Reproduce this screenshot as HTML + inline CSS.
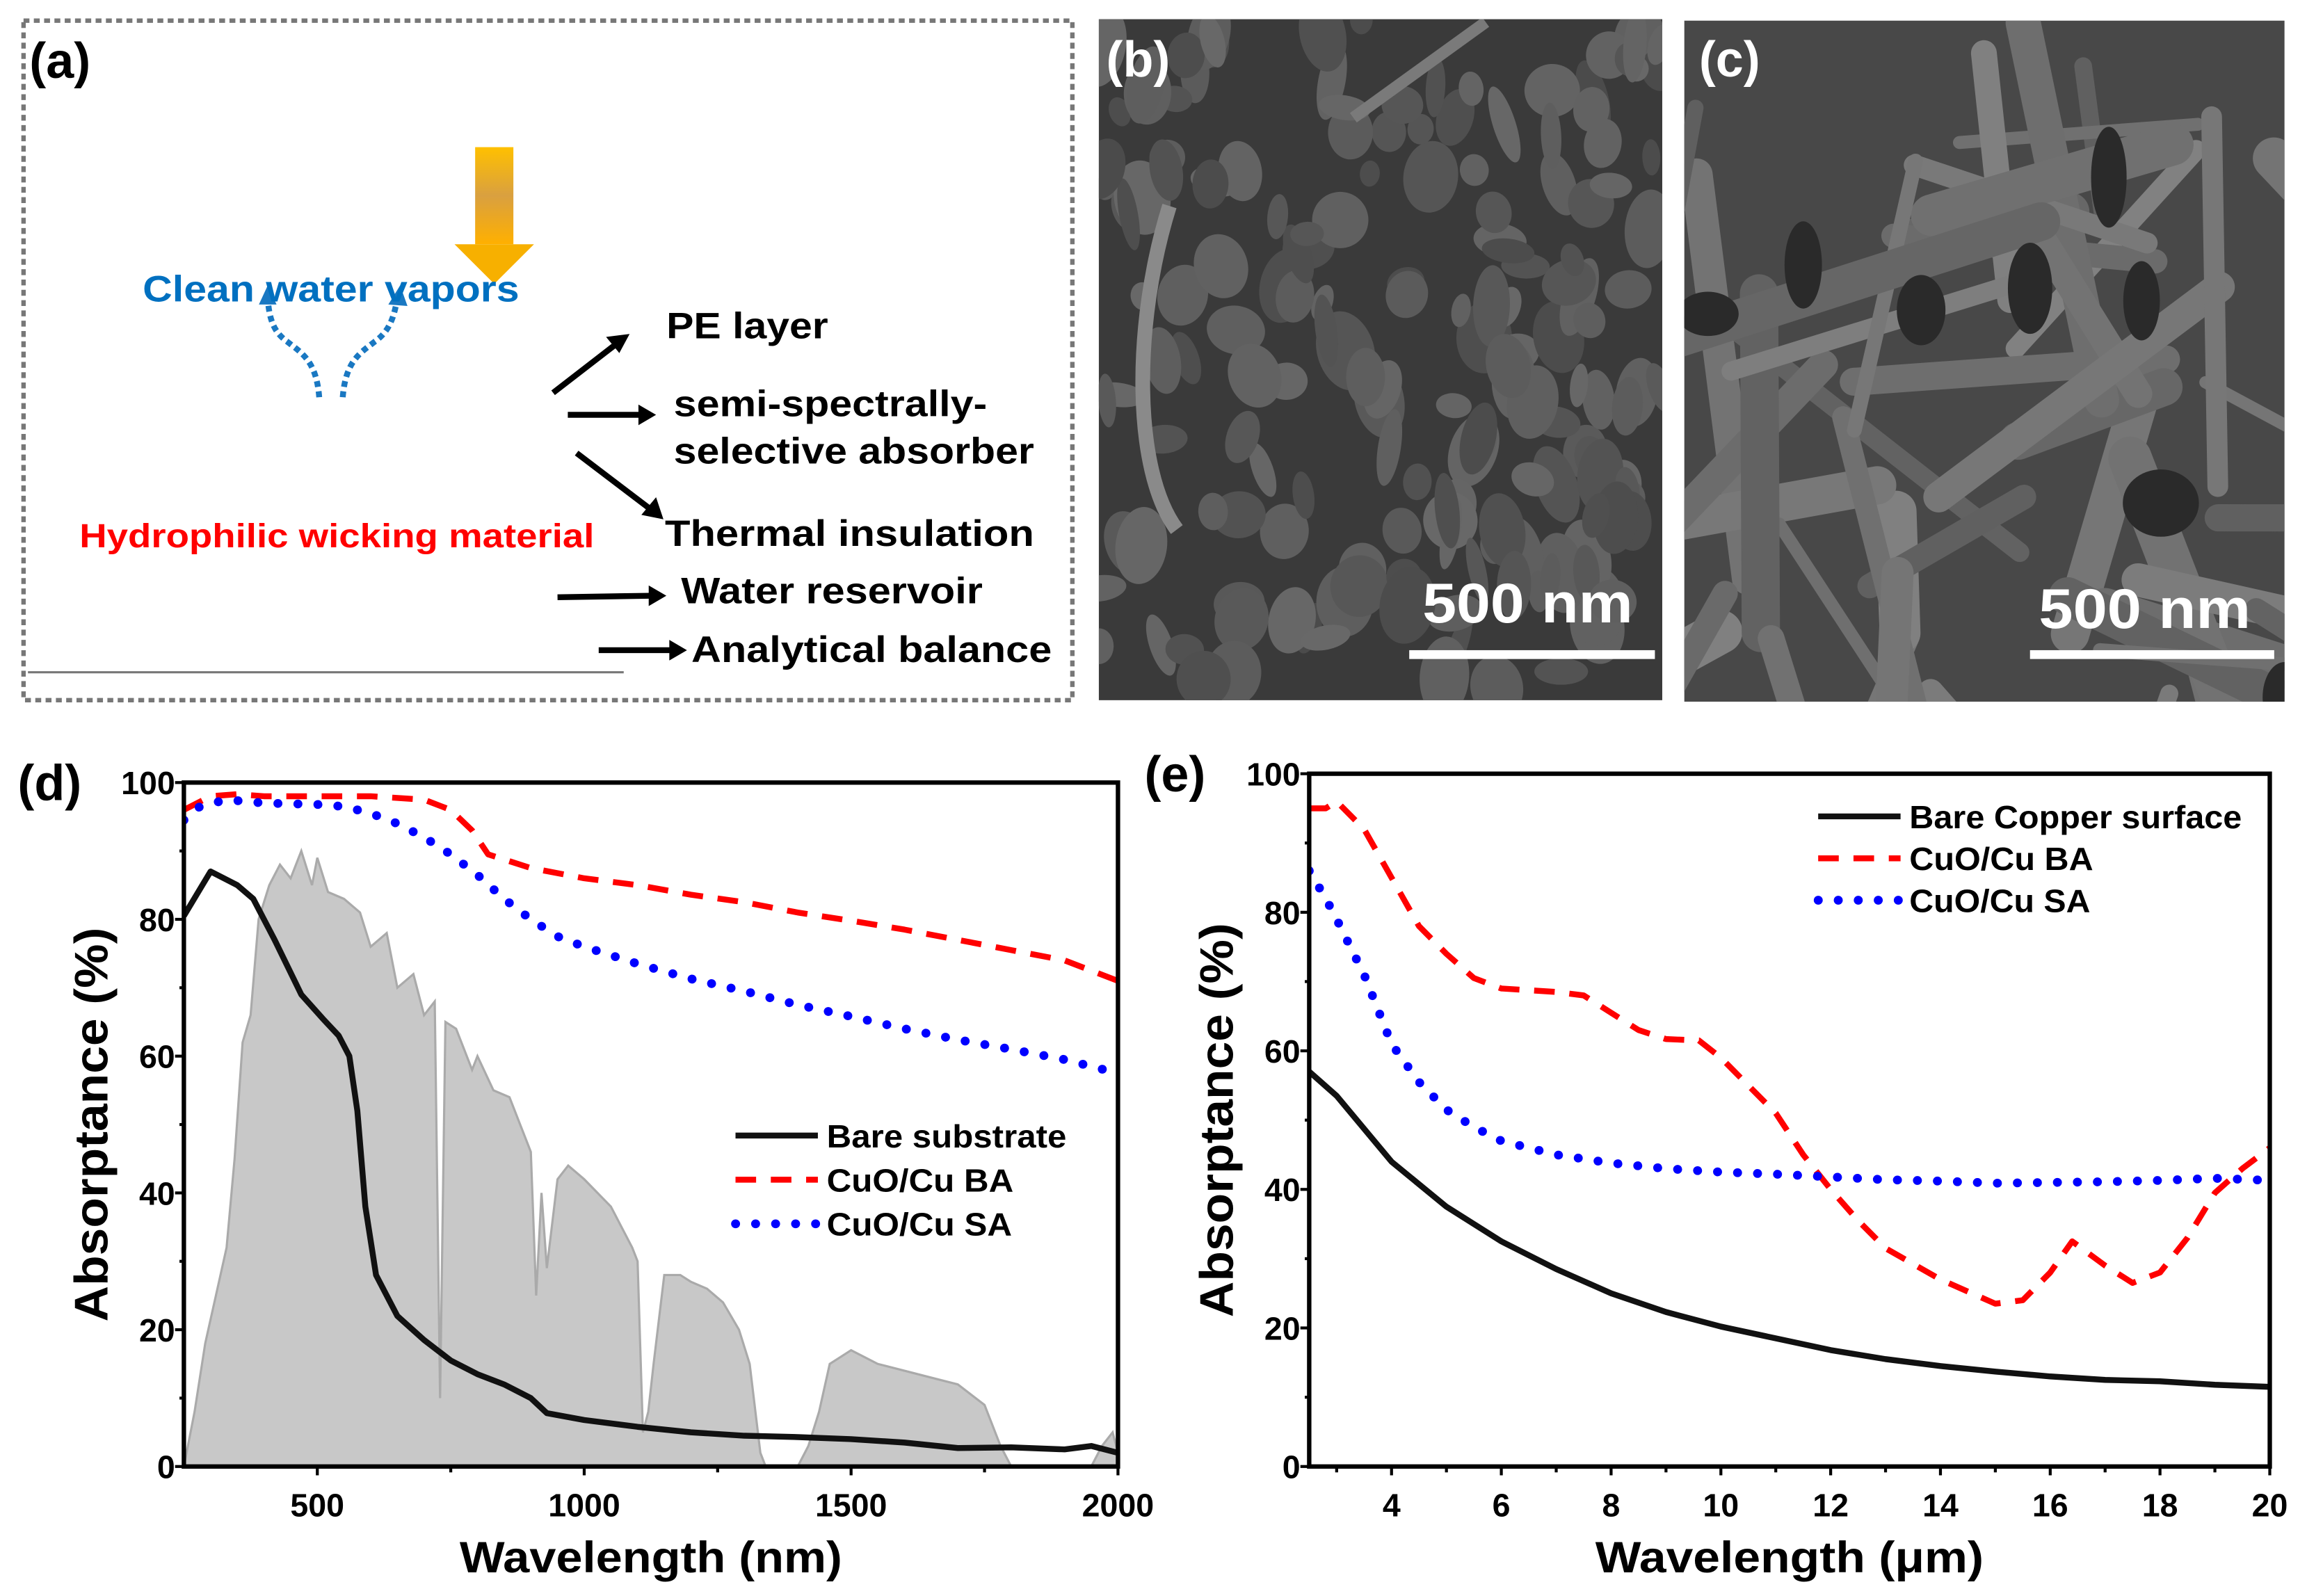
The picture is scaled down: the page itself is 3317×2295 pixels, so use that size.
<!DOCTYPE html>
<html><head><meta charset="utf-8">
<style>
html,body{margin:0;padding:0;background:#fff;}
svg{display:block;font-family:"Liberation Sans",Arial,sans-serif;}
</style></head>
<body>
<svg id="fig" width="3317" height="2295" viewBox="0 0 1568.3 1085" xmlns="http://www.w3.org/2000/svg">
<g id="panelA">
  <rect x="16" y="14" width="713" height="462" fill="none" stroke="#777" stroke-width="3" stroke-dasharray="4,3"/>
  <text x="20" y="53" font-size="34" font-weight="bold">(a)</text>
  <defs>
    <linearGradient id="og" x1="0" x2="0" y1="0" y2="1"><stop offset="0" stop-color="#ffc000"/><stop offset="0.5" stop-color="#d9a040"/><stop offset="1" stop-color="#ffb000"/></linearGradient>
  </defs>
  <g>
    <rect x="323" y="100" width="26" height="66" fill="url(#og)"/>
    <polygon points="309,166 363,166 336,193" fill="#f7b000"/>
  </g>
  <g fill="none" stroke="#1a78c2" stroke-width="4" stroke-dasharray="4,3">
    <path d="M217,270 C215,245 205,240 195,232 C185,225 183,215 182,203"/>
    <path d="M233,270 C235,245 245,240 255,232 C265,225 268,215 270,203"/>
  </g>
  <polygon points="176,207 182,194 188,207" fill="#1a78c2"/>
  <polygon points="264,207 272,194 277,208" fill="#1a78c2"/>
  <text x="97" y="205" font-size="25" font-weight="bold" fill="#0070c0" textLength="256" lengthAdjust="spacingAndGlyphs">Clean water vapors</text>
  <text x="54" y="372" font-size="23" font-weight="bold" fill="#ff0000" textLength="350" lengthAdjust="spacingAndGlyphs">Hydrophilic wicking material</text>
  <g stroke="#000" stroke-width="4">
    <line x1="376" y1="267" x2="420" y2="233"/>
    <line x1="386" y1="282" x2="436" y2="282"/>
    <line x1="392" y1="308" x2="442" y2="346"/>
    <line x1="379" y1="406" x2="442" y2="405"/>
    <line x1="407" y1="442" x2="456" y2="442"/>
  </g>
  <g fill="#000">
    <polygon points="428,227 412,229 421,240"/>
    <polygon points="446,282 434,275 434,289"/>
    <polygon points="451,353 446,338 436,350"/>
    <polygon points="453,405 441,398 441,412"/>
    <polygon points="467,442 455,435 455,449"/>
  </g>
  <g font-size="25" font-weight="bold" fill="#000">
    <text x="453" y="230" textLength="110" lengthAdjust="spacingAndGlyphs">PE layer</text>
    <text x="458" y="283" textLength="213" lengthAdjust="spacingAndGlyphs">semi-spectrally-</text>
    <text x="458" y="315" textLength="245" lengthAdjust="spacingAndGlyphs">selective absorber</text>
    <text x="452" y="371" textLength="251" lengthAdjust="spacingAndGlyphs">Thermal insulation</text>
    <text x="463" y="410" textLength="205" lengthAdjust="spacingAndGlyphs">Water reservoir</text>
    <text x="470" y="450" textLength="245" lengthAdjust="spacingAndGlyphs">Analytical balance</text>
  </g>
  <line x1="19" y1="457" x2="424" y2="457" stroke="#777" stroke-width="1.5"/>
</g>
<g id="panelB">
  <clipPath id="cb"><rect x="747" y="13" width="383" height="463"/></clipPath>
  <rect x="747" y="13" width="383" height="463" fill="#3a3a3a"/>
  <g id="blobsB" clip-path="url(#cb)"></g>
  <text x="752" y="52" font-size="34" font-weight="bold" fill="#fff">(b)</text>
  <text x="967" y="423" font-size="38" font-weight="bold" fill="#fff" textLength="143" lengthAdjust="spacingAndGlyphs">500 nm</text>
  <rect x="958" y="442" width="167" height="6" fill="#fff"/>
</g>
<g id="panelC">
  <clipPath id="cc"><rect x="1145" y="14" width="408" height="463"/></clipPath>
  <rect x="1145" y="14" width="408" height="463" fill="#484848"/>
  <g id="blobsC" clip-path="url(#cc)"></g>
  <text x="1155" y="52" font-size="34" font-weight="bold" fill="#fff">(c)</text>
  <text x="1386" y="427" font-size="38" font-weight="bold" fill="#fff" textLength="144" lengthAdjust="spacingAndGlyphs">500 nm</text>
  <rect x="1380" y="442" width="166" height="6" fill="#fff"/>
</g>
<g id="chartD"></g>
<g id="chartE"></g>
</svg>
<script>
// ---- Chart (d) data ----
const dBareX=[250,300,350,380,420,470,510,540,560,575,590,610,650,700,750,800,850,900,930,1000,1100,1200,1300,1400,1500,1600,1700,1800,1900,1950,2000];
const dBareY=[80.5,87,85,83,77,69,65.5,63,60,52,38,28,22,18.5,15.5,13.5,12,10,7.8,6.8,5.8,5,4.5,4.3,4,3.5,2.7,2.8,2.5,3,2];
const dBAX=[250,300,350,400,500,600,700,750,790,820,900,1000,1100,1200,1300,1400,1500,1600,1700,1800,1900,2000];
const dBAY=[96,98,98.3,98,98,98,97.5,96,93,89.5,87.5,86,85,83.6,82.5,81,79.8,78.5,77,75.5,74,71];
const dSAX=[250,280,330,400,500,550,600,650,700,750,800,850,900,950,1000,1100,1200,1300,1400,1500,1600,1700,1800,1900,2000];
const dSAY=[94.5,96.5,97.5,97,96.8,96.5,95.5,94,92,89.5,86.5,83,80,77.5,76,73.5,71.3,69.5,67.5,65.8,64,62.4,61,59.5,57.5];
const dSunX=[250,270,290,310,330,345,360,375,390,410,430,450,470,490,500,520,550,580,600,630,650,680,700,720,730,740,760,790,800,830,860,880,900,910,920,930,950,970,1000,1050,1090,1100,1110,1120,1130,1150,1180,1200,1230,1260,1290,1310,1330,1340,1400,1420,1440,1460,1480,1500,1550,1600,1650,1700,1750,1780,1800,1950,1970,1990,2000];
const dSunY=[0,8,18,25,32,45,62,66,80,85,88,86,90,85,89,84,83,81,76,78,70,72,66,68,10,65,64,58,60,55,54,50,46,25,40,29,42,44,42,38,32,30,5,8,15,28,28,27,26,24,20,15,2,0,0,3,8,15,16,17,15,14,13,12,9,3,0,0,3,5,2];
const dXTicks=[500,1000,1500,2000];
const yTicks=[0,20,40,60,80,100];
// ---- Chart (e) data ----
const eBareX=[2.5,3,4,5,6,7,8,9,10,11,12,13,14,15,16,17,18,19,20];
const eBareY=[57,53.5,44,37.5,32.5,28.5,25,22.3,20.2,18.5,16.8,15.5,14.5,13.7,13,12.5,12.3,11.8,11.5];
const eBAX=[2.5,2.8,3,3.5,4,4.5,5,5.5,6,7,7.5,8,8.5,9,9.6,10,11,11.5,12,12.5,13,14,15,15.5,16,16.4,17,17.5,18,18.5,19,19.5,20];
const eBAY=[95,95,96,92,85,78,74,70.5,69,68.5,68,65.5,63,61.7,61.5,59,51,45,40,35.5,31.5,27,23.5,24,28,32.5,29,26.5,28,33,39.5,43,46];
const eSAX=[2.5,2.8,3,3.5,4,4.5,5,5.5,6,6.5,7,8,9,10,11,12,13,14,15,16,17,18,19,20];
const eSAY=[86,82,79,71,61,55.5,51.5,49,47,46,45,43.8,43,42.5,42.2,41.8,41.4,41.2,40.9,41,41.1,41.3,41.6,41.3];
const eXTicks=[4,6,8,10,12,14,16,18,20];

const NS="http://www.w3.org/2000/svg";
function mk(tag,attrs,parent){const e=document.createElementNS(NS,tag);for(const k in attrs)e.setAttribute(k,attrs[k]);parent.appendChild(e);return e;}
function path(xs,ys,sx,sy){return xs.map((x,i)=>(i?'L':'M')+sx(x).toFixed(2)+','+sy(ys[i]).toFixed(2)).join(' ');}

function chart(g,cfg){
  const sx=v=>cfg.L+(v-cfg.x0)/(cfg.x1-cfg.x0)*(cfg.R-cfg.L);
  const sy=v=>cfg.B-(v/100)*(cfg.B-cfg.T);
  const clipId=g.id+'clip';
  const cp=mk('clipPath',{id:clipId},g);mk('rect',{x:cfg.L,y:cfg.T,width:cfg.R-cfg.L,height:cfg.B-cfg.T},cp);
  const plot=mk('g',{'clip-path':'url(#'+clipId+')'},g);
  if(cfg.sun){
    const s=mk('path',{d:path(cfg.sun[0],cfg.sun[1],sx,sy)+' L'+sx(cfg.sun[0][cfg.sun[0].length-1])+','+sy(0)+' L'+sx(cfg.sun[0][0])+','+sy(0)+' Z',fill:'#c8c8c8',stroke:'#aaa','stroke-width':1.5},plot);
    
    
  }
  cfg.series.forEach(se=>{
    const p=mk('path',{d:path(se.x,se.y,sx,sy),fill:'none',stroke:se.c,'stroke-width':se.w,'stroke-dasharray':se.dash||'none','stroke-linecap':se.cap||'butt','stroke-linejoin':'round'},plot);
    
    
  });
  const frame=mk('rect',{x:cfg.L,y:cfg.T,width:cfg.R-cfg.L,height:cfg.B-cfg.T,fill:'none',stroke:'#000','stroke-width':3},g);
  
  
  yTicks.forEach((v,i)=>{
    mk('line',{x1:cfg.L-6,x2:cfg.L,y1:sy(v),y2:sy(v),stroke:'#000','stroke-width':2},g);
    if(i<yTicks.length-1) mk('line',{x1:cfg.L-3,x2:cfg.L,y1:sy(v+10),y2:sy(v+10),stroke:'#000','stroke-width':2},g);
    const t=mk('text',{x:cfg.L-6,y:sy(v)+8,'font-size':22,'font-weight':'bold','text-anchor':'end'},g);
    t.textContent=v;
    
    
  });
  cfg.xt.forEach(v=>{
    mk('line',{x1:sx(v),x2:sx(v),y1:cfg.B,y2:cfg.B+6,stroke:'#000','stroke-width':2},g);
    const m=v-cfg.minor; if(m>cfg.x0) mk('line',{x1:sx(m),x2:sx(m),y1:cfg.B,y2:cfg.B+4,stroke:'#000','stroke-width':2},g);
    const t=mk('text',{x:sx(v),y:cfg.B+34,'font-size':22,'font-weight':'bold','text-anchor':'middle'},g);
    t.textContent=v;
    
    
  });
  const xt=mk('text',{x:(cfg.L+cfg.R)/2,y:cfg.B+72,'font-size':30,'font-weight':'bold','text-anchor':'middle',textLength:cfg.xtl,lengthAdjust:'spacingAndGlyphs'},g);
  xt.textContent=cfg.xtitle;
  
  
  const yt=mk('text',{x:0,y:0,'font-size':32,'font-weight':'bold','text-anchor':'middle',textLength:268,lengthAdjust:'spacingAndGlyphs',transform:'translate('+(cfg.L-52)+','+((cfg.T+cfg.B)/2)+') rotate(-90)'},g);
  yt.textContent='Absorptance (%)';
  
  
  const pl=mk('text',{x:cfg.plx,y:cfg.T+12,'font-size':34,'font-weight':'bold'},g);
  pl.textContent=cfg.label;
  
  
  cfg.series.forEach((se,i)=>{
    const ly=cfg.legY+i*cfg.legDy;
    const ll=mk('line',{x1:cfg.legX,x2:cfg.legX+56,y1:ly,y2:ly,stroke:se.c,'stroke-width':se.w,'stroke-dasharray':se.dash||'none','stroke-linecap':se.cap||'butt'},g);
    
    
    const lt=mk('text',{x:cfg.legX+62,y:ly+8,'font-size':22,'font-weight':'bold',textLength:se.tl,lengthAdjust:'spacingAndGlyphs'},g);
    lt.textContent=se.label;
    
    
  });
}
chart(document.getElementById('chartD'),{L:125,R:760,T:532,B:997,x0:250,x1:2000,xt:dXTicks,minor:250,
  sun:[dSunX,dSunY],xtitle:'Wavelength (nm)',xtl:260,label:'(d)',plx:12,legX:500,legY:772,legDy:30,
  series:[{x:dBareX,y:dBareY,c:'#111',w:4,name:'bare-substrate-line',label:'Bare substrate',tl:163},
          {x:dBAX,y:dBAY,c:'#ff0000',w:4,dash:'14,10',name:'cuo-cu-ba-line',label:'CuO/Cu BA',tl:127},
          {x:dSAX,y:dSAY,c:'#0000ff',w:6,dash:'0.1,13.5',cap:'round',name:'cuo-cu-sa-line',label:'CuO/Cu SA',tl:126}]});
chart(document.getElementById('chartE'),{L:890,R:1543,T:526,B:997,x0:2.5,x1:20,xt:eXTicks,minor:1,
  xtitle:'Wavelength (\u03bcm)',xtl:264,label:'(e)',plx:778,legX:1236,legY:555,legDy:28.5,
  series:[{x:eBareX,y:eBareY,c:'#111',w:4,name:'bare-copper-line',label:'Bare Copper surface',tl:226},
          {x:eBAX,y:eBAY,c:'#ff0000',w:4,dash:'14,10',name:'cuo-cu-ba-line',label:'CuO/Cu BA',tl:125},
          {x:eSAX,y:eSAY,c:'#0000ff',w:6,dash:'0.1,13.5',cap:'round',name:'cuo-cu-sa-line',label:'CuO/Cu SA',tl:123}]});

// SEM textures (decorative)
let seed=7;function rnd(){seed=(seed*16807)%2147483647;return seed/2147483647;}
const gb=document.getElementById('blobsB');
for(let i=0;i<170;i++){
  const x=747+rnd()*383,y=13+rnd()*463,rx=6+rnd()*14,ry=8+rnd()*20,c=75+Math.floor(rnd()*30);
  mk('ellipse',{cx:x,cy:y,rx:rx,ry:ry,fill:'rgb('+c+','+c+','+c+')',transform:'rotate('+(rnd()*40-20)+' '+x+' '+y+')'},gb);
}
mk('path',{d:'M795,140 C770,220 770,320 800,360',stroke:'#8a8a8a','stroke-width':10,fill:'none'},gb);
mk('path',{d:'M920,80 L1010,15',stroke:'#7a7a7a','stroke-width':8,fill:'none'},gb);
const gc=document.getElementById('blobsC');
for(let i=0;i<45;i++){
  const x1=1145+rnd()*408,y1=14+rnd()*463,a=rnd()*Math.PI,len=80+rnd()*200,c=95+Math.floor(rnd()*35);
  mk('line',{x1:x1,y1:y1,x2:x1+Math.cos(a)*len,y2:y1+Math.sin(a)*len,stroke:'rgb('+c+','+c+','+c+')','stroke-width':8+rnd()*22,'stroke-linecap':'round'},gc);
}
for(let i=0;i<8;i++){
  const x=1145+rnd()*408,y=14+rnd()*463;
  mk('ellipse',{cx:x,cy:y,rx:12+rnd()*15,ry:15+rnd()*20,fill:'#2a2a2a'},gc);
}
</script>
</body></html>
